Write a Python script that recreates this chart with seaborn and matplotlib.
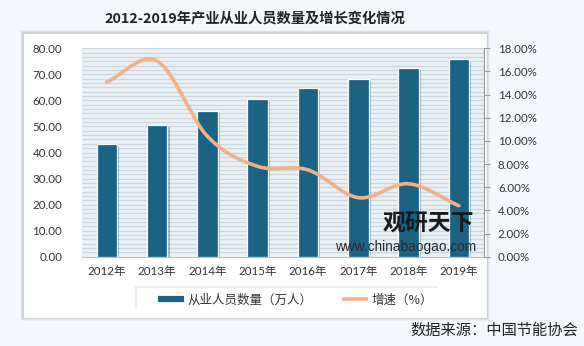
import numpy as np
import pandas as pd
import matplotlib
matplotlib.use("Agg")
import matplotlib.pyplot as plt
import matplotlib.patheffects as pe
from matplotlib.patches import Rectangle
from matplotlib.lines import Line2D
import seaborn as sns

# ---- data ----
years = ["2012年", "2013年", "2014年", "2015年", "2016年", "2017年", "2018年", "2019年"]
employees = [43.3, 50.4, 55.9, 60.5, 64.9, 68.2, 72.6, 75.8]      # 万人
growth = [15.1, 16.9, 10.4, 7.8, 7.5, 5.1, 6.3, 4.4]              # %
left_ticks = [0, 10, 20, 30, 40, 50, 60, 70, 80]
right_ticks = [0, 2, 4, 6, 8, 10, 12, 14, 16, 18]

BAR_COLOR = "#1b6384"
LINE_COLOR = "#f4b086"
PAGE_BG = "#f4f8fc"
PLOT_BG = "#eaf1f6"
STRIPE = "#cdd5dd"

sns.set_theme(style="white")
plt.rcParams["font.family"] = ["Lato", "Noto Sans CJK SC", "DejaVu Sans"]

fig = plt.figure(figsize=(5.84, 3.46), dpi=100)
fig.patch.set_facecolor(PAGE_BG)

W, H = 584, 346
def fx(px):
    return px / W
def fy(py):
    return 1 - py / H

# white card behind the chart with a soft grey edge
for i, a in enumerate([0.10, 0.07, 0.04]):
    fig.patches.append(Rectangle((fx(23 - i), fy(318 + i)), fx(464 + 2 * i), (318 - 33 + 2 * i) / H,
                                 transform=fig.transFigure, facecolor="none",
                                 edgecolor=(0, 0, 0, a), lw=1.2, zorder=-3))
fig.patches.append(Rectangle((fx(23), fy(318)), fx(464), (318 - 33) / H,
                             transform=fig.transFigure, facecolor="white",
                             edgecolor="#d0d0d0", lw=0.8, zorder=-2))

# title
fig.text(fx(255), fy(19), "2012-2019年产业从业人员数量及增长变化情况",
         ha="center", va="center", fontsize=10.3, fontweight="bold",
         color="#222222", family=["Noto Sans CJK SC", "DejaVu Sans"])

ax = fig.add_axes([fx(81.7), fy(256.7), fx(484 - 81.7), (256.7 - 48.3) / H])
ax.set_facecolor(PLOT_BG)
ax.set_xlim(-0.5, 7.5)
ax.set_ylim(0, 80)

# striped plot-area fill
for yv in np.linspace(0, 80, 49)[1:]:
    ax.axhline(yv, color=STRIPE, lw=0.9, zorder=0)

df = pd.DataFrame({"year": years, "employees": employees, "growth": growth})
sns.barplot(data=df, x="year", y="employees", color=BAR_COLOR, width=0.41,
            saturation=1, ax=ax, zorder=3, edgecolor="white", linewidth=0.9)
for p in ax.patches:
    p.set_path_effects([pe.SimplePatchShadow(offset=(1.5, -1.5), shadow_rgbFace="#000000", alpha=0.25),
                        pe.Normal()])

ax.set_yticks(left_ticks)
ax.set_yticklabels([f"{v:.2f}" for v in left_ticks], fontsize=8.3, color="#333333")
ax.tick_params(axis="y", length=0, pad=14)
ax.tick_params(axis="x", length=0, pad=7, labelsize=8.3, labelcolor="#333333")
ax.set_xlabel("")
ax.set_ylabel("")
for s in ["top", "left", "right"]:
    ax.spines[s].set_visible(False)
ax.spines["bottom"].set_color("#bfbfbf")
ax.spines["bottom"].set_linewidth(0.8)
ax.grid(False)

# secondary axis for the growth rate, drawn as a smoothed curve
ax2 = ax.twinx()
ax2.set_ylim(0, 18)
x = np.arange(len(growth), dtype=float)
yv = np.array(growth, dtype=float)
# Catmull-Rom smoothing between the yearly points
xs, ys = [], []
pts_x = np.concatenate([[x[0] - (x[1] - x[0])], x, [x[-1] + (x[-1] - x[-2])]])
pts_y = np.concatenate([[yv[0] - (yv[1] - yv[0])], yv, [yv[-1] + (yv[-1] - yv[-2])]])
for i in range(1, len(pts_x) - 2):
    t = np.linspace(0, 1, 30)
    for arr, out in ((pts_x, xs), (pts_y, ys)):
        p0, p1, p2, p3 = arr[i - 1], arr[i], arr[i + 1], arr[i + 2]
        seg = 0.5 * ((2 * p1) + (-p0 + p2) * t + (2 * p0 - 5 * p1 + 4 * p2 - p3) * t ** 2
                     + (-p0 + 3 * p1 - 3 * p2 + p3) * t ** 3)
        out.extend(seg)
smooth = pd.DataFrame({"x": xs, "y": ys})
sns.lineplot(data=smooth, x="x", y="y", sort=False, color=LINE_COLOR, lw=2.6,
             ax=ax2, zorder=4, solid_capstyle="round")
ax2.set_xlim(-0.5, 7.5)
ax2.set_yticks(right_ticks)
ax2.set_yticklabels([f"{v:.2f}%" for v in right_ticks], fontsize=8.3, color="#333333")
ax2.tick_params(axis="y", direction="out", length=4, width=0.8, color="#9a9a9a", pad=6)
ax2.set_xlabel("")
ax2.set_ylabel("")
for s in ["top", "left", "bottom"]:
    ax2.spines[s].set_visible(False)
ax2.spines["right"].set_visible(True)
ax2.spines["right"].set_color("#9a9a9a")
ax2.spines["right"].set_linewidth(0.8)
ax2.grid(False)

# watermark
fig.text(fx(428), fy(224), "观研天下", ha="center", va="center", fontsize=16.5,
         fontweight="bold", color="#1a1a1a", family=["Noto Sans CJK SC"], zorder=10)
fig.text(fx(406), fy(247), "www.chinabaogao.com", ha="center", va="center", fontsize=9.8,
         color="#2a2a2a", family=["Liberation Sans"], zorder=10)

# legend box with a soft shadow
fig.patches.append(Rectangle((fx(137), fy(312)), fx(303), 24 / H,
                             transform=fig.transFigure, facecolor="white", edgecolor="none",
                             zorder=1,
                             path_effects=[pe.SimplePatchShadow(offset=(-1.5, 1.5), alpha=0.10),
                                           pe.Normal()]))
handles = [Line2D([], [], color=BAR_COLOR, lw=4.5, solid_capstyle="butt"),
           Line2D([], [], color=LINE_COLOR, lw=2.6, solid_capstyle="butt")]
leg = fig.legend(handles, ["从业人员数量（万人）", "增速（%）"], loc="center left",
                 bbox_to_anchor=(fx(158), fy(300)), ncol=2, frameon=False,
                 borderpad=0, borderaxespad=0,
                 handlelength=2.1, handletextpad=0.3, columnspacing=2.3,
                 prop={"family": ["Noto Sans CJK SC"], "size": 9})
leg.set_zorder(2)
for t in leg.get_texts():
    t.set_color("#333333")

# source note
fig.text(fx(578), fy(330), "数据来源：中国节能协会", ha="right", va="center",
         fontsize=11, color="#222222", family=["Noto Sans CJK SC"])

fig.savefig("out.png", dpi=100, facecolor=fig.get_facecolor())
